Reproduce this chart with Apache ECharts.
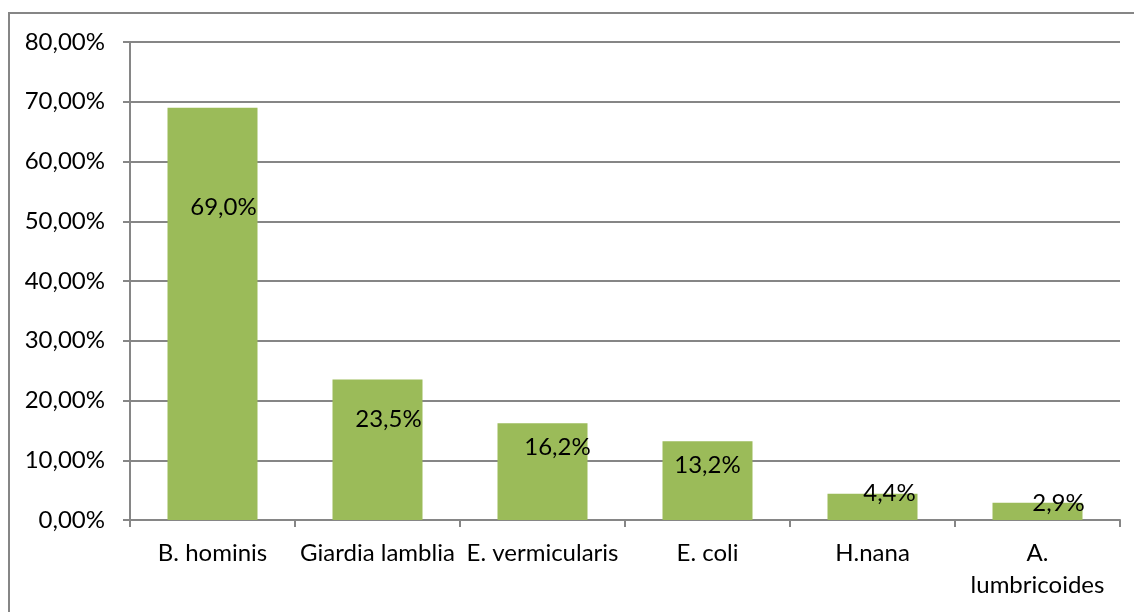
<!DOCTYPE html>
<html>
<head>
<meta charset="utf-8">
<script src="https://cdn.jsdelivr.net/npm/echarts@6/dist/echarts.min.js"></script>
<style>
html,body{margin:0;padding:0;background:#fff;}
#chart{width:1134px;height:612px;}
</style>
</head>
<body>
<div id="chart"></div>
<script>
const categories = ['B. hominis', 'Giardia lamblia', 'E. vermicularis', 'E. coli', 'H.nana', 'A. lumbricoides'];
const values = [69.0, 23.5, 16.2, 13.2, 4.4, 2.9];
const yTicks = { min: 0, max: 80, interval: 10 };

// label placement (manual, as in the reference)
const labelShifts = [[11, 88], [11, 28], [15, 12], [0, 12], [17, -12], [21, -11]];

const fontFamily = 'Lato, "Open Sans", sans-serif';
const gray = '#868686';

const chart = echarts.init(document.getElementById('chart'), null, { renderer: 'canvas' });
chart.setOption({
  animation: false,
  backgroundColor: '#fff',
  graphic: [{
    type: 'rect',
    shape: { x: 9, y: 13, width: 1300, height: 800 },
    style: { fill: 'none', stroke: gray, lineWidth: 2 },
    silent: true
  }],
  grid: { left: 130, right: 14, top: 42, bottom: 92, containLabel: false },
  xAxis: {
    type: 'category',
    data: categories,
    axisLine: { show: true, lineStyle: { color: gray, width: 2 } },
    axisTick: { show: true, length: 7, alignWithLabel: false, lineStyle: { color: gray, width: 2 } },
    axisLabel: {
      interval: 0,
      color: '#000',
      fontFamily: fontFamily,
      fontSize: 24,
      lineHeight: 32,
      margin: 17,
      formatter: function (v) { return v === 'A. lumbricoides' ? 'A.\nlumbricoides' : v; }
    }
  },
  yAxis: {
    type: 'value',
    min: yTicks.min,
    max: yTicks.max,
    interval: yTicks.interval,
    axisLine: { show: true, lineStyle: { color: gray, width: 2 } },
    axisTick: { show: true, length: 7, lineStyle: { color: gray, width: 2 } },
    splitLine: { show: true, lineStyle: { color: gray, width: 2 } },
    axisLabel: {
      color: '#000',
      fontFamily: fontFamily,
      fontSize: 24,
      margin: 25,
      formatter: function (v) { return v.toFixed(2).replace('.', ',') + '%'; }
    }
  },
  series: [{
    type: 'bar',
    barWidth: 90,
    itemStyle: { color: '#9BBB59' },
    data: values.map(function (v, i) {
      return {
        value: v,
        label: {
          show: true,
          position: 'insideTop',
          distance: 0,
          offset: labelShifts[i],
          color: '#000',
          fontFamily: fontFamily,
          fontSize: 24,
          lineHeight: 24,
          formatter: function (p) { return p.value.toFixed(1).replace('.', ',') + '%'; }
        }
      };
    })
  }]
});
</script>
</body>
</html>
